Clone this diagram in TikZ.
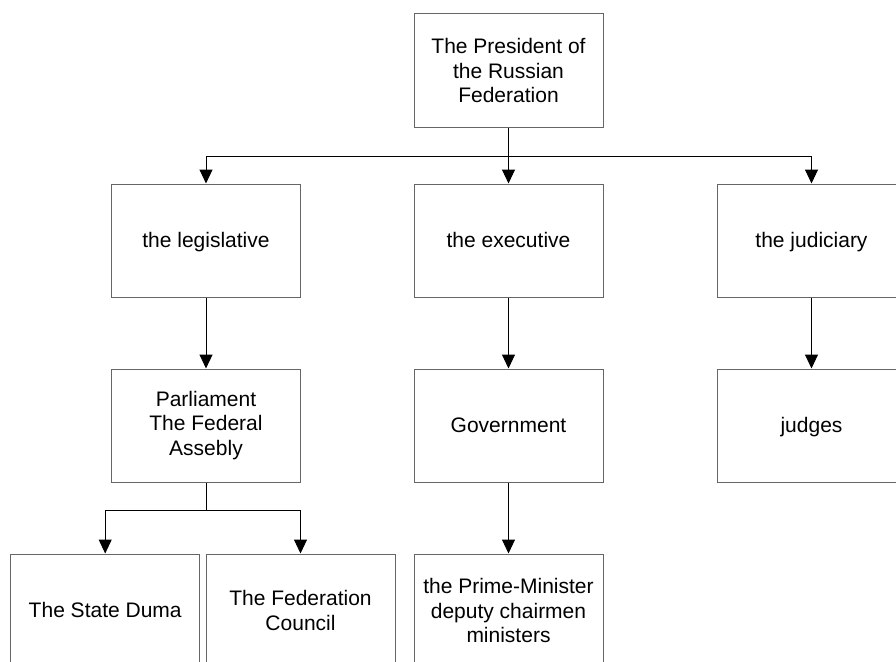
\documentclass[tikz,border=0pt]{standalone}
\usepackage{fontspec}
\setmainfont{Liberation Sans}
\usetikzlibrary{arrows.meta}
\tikzset{
  box/.style={draw=black!60, line width=1pt, minimum width=189pt, minimum height=113pt,
    inner sep=0pt, align=center, font=\fontsize{21}{24.5}\selectfont, text=black},
  oneline/.style={text height=18pt, text depth=4.4pt},
  conn/.style={draw=black, line width=1pt},
  arr/.style={conn, -{Triangle[width=13pt,length=14pt]}}
}
\begin{document}
\begin{tikzpicture}[x=1pt,y=-1pt]
\useasboundingbox (0,0) rectangle (896,661);
\clip (0,0) rectangle (896,661);
\fill[white] (0,0) rectangle (896,661);
\node[box] (pres) at (508.5,70.5) {The President of\\the Russian\\Federation};
\node[box,oneline] (leg) at (206,240.5) {the legislative};
\node[box,oneline] (exe) at (508.5,240.5) {the executive};
\node[box,oneline] (jud) at (811.5,240.5) {the judiciary};
\node[box] (parl) at (206,425.5) {Parliament\\The Federal\\Assebly};
\node[box,oneline] (gov) at (508.5,425.5) {Government};
\node[box,oneline] (judges) at (811.5,425.5) {judges};
\node[box,oneline] (duma) at (105.2,610.5) {The State Duma};
\node[box] (fed) at (300.5,610.5) {The Federation\\Council};
\node[box] (pm) at (508.5,610.5) {the Prime-Minister\\deputy chairmen\\ministers};
\coordinate (b1) at (508.5,156);
\coordinate (b2) at (206,510);
\draw[conn] (pres.south) -- (b1);
\draw[arr] (b1) -| (leg.north);
\draw[arr] (b1) -| (jud.north);
\draw[arr] (b1) -- (exe.north);
\draw[arr] (leg.south) -- (parl.north);
\draw[arr] (exe.south) -- (gov.north);
\draw[arr] (gov.south) -- (pm.north);
\draw[arr] (jud.south) -- (judges.north);
\draw[conn] (parl.south) -- (b2);
\draw[arr] (b2) -| (duma.north);
\draw[arr] (b2) -| (fed.north);
\end{tikzpicture}
\end{document}
